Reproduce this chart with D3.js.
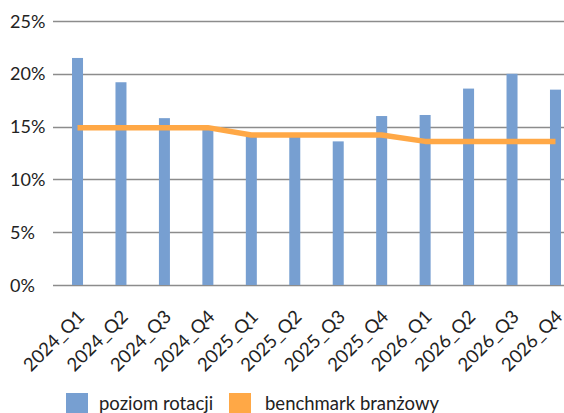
<!DOCTYPE html>
<html><head><meta charset="utf-8">
<script src="https://cdn.jsdelivr.net/npm/d3@7"></script>
<style>body{margin:0;background:#fff}svg{display:block}text{font-family:Lato,"Open Sans",sans-serif;fill:#222}</style>
</head><body><div id="chart"></div>
<script>
const categories = ["2024_Q1","2024_Q2","2024_Q3","2024_Q4","2025_Q1","2025_Q2","2025_Q3","2025_Q4","2026_Q1","2026_Q2","2026_Q3","2026_Q4"];
const poziomRotacji = [21.5, 19.2, 15.8, 14.8, 14.1, 14.1, 13.6, 16.0, 16.1, 18.6, 20.0, 18.5];
const benchmark = [14.9, 14.9, 14.9, 14.9, 14.2, 14.2, 14.2, 14.2, 13.6, 13.6, 13.6, 13.6];
const yTicks = [0, 5, 10, 15, 20, 25];
const seriesNames = ["poziom rotacji", "benchmark branżowy"];
const colors = ["#779FD1", "#FFA846"];

const W = 564, H = 413;
const svg = d3.select("#chart").append("svg").attr("width", W).attr("height", H);

const x = d3.scaleBand().domain(categories).range([55.8, 577.2]).padding(0);
const y = d3.scaleLinear().domain([0, 25]).range([285, 21]);
const cx = d => x(d) + x.bandwidth() / 2;
const barW = 11;

// gridlines
svg.append("g").selectAll("line").data(yTicks).join("line")
  .attr("x1", 53).attr("x2", W)
  .attr("y1", d => Math.round(y(d)) + 0.5).attr("y2", d => Math.round(y(d)) + 0.5)
  .attr("stroke", "#8c8c8c").attr("stroke-width", 1.3);

// y labels
svg.append("g").selectAll("text").data(yTicks).join("text")
  .attr("x", 10).attr("y", d => y(d) + 6.5)
  .attr("font-size", 18).text(d => d + "%");

// bars
svg.append("g").selectAll("rect").data(categories).join("rect")
  .attr("x", d => cx(d) - barW / 2).attr("width", barW)
  .attr("y", (d, i) => y(poziomRotacji[i]))
  .attr("height", (d, i) => y(0) - y(poziomRotacji[i]))
  .attr("fill", colors[0]);

// line
const line = d3.line().x((d, i) => cx(categories[i])).y(d => y(d));
svg.append("path").datum(benchmark).attr("d", line)
  .attr("fill", "none").attr("stroke", colors[1]).attr("stroke-width", 5.5)
  .attr("stroke-linejoin", "round");

// x labels
svg.append("g").selectAll("text").data(categories).join("text")
  .attr("transform", d => `translate(${cx(d) + 8},${318}) rotate(-45)`)
  .attr("text-anchor", "end").attr("font-size", 18.5).text(d => d);

// legend
const leg = [{x: 66, tx: 99}, {x: 229, tx: 265}];
leg.forEach((l, i) => {
  svg.append("rect").attr("x", l.x).attr("y", 393).attr("width", 22).attr("height", 22).attr("fill", colors[i]);
  svg.append("text").attr("x", l.tx).attr("y", 409.5).attr("font-size", 18.5).text(seriesNames[i]);
});
</script></body></html>
